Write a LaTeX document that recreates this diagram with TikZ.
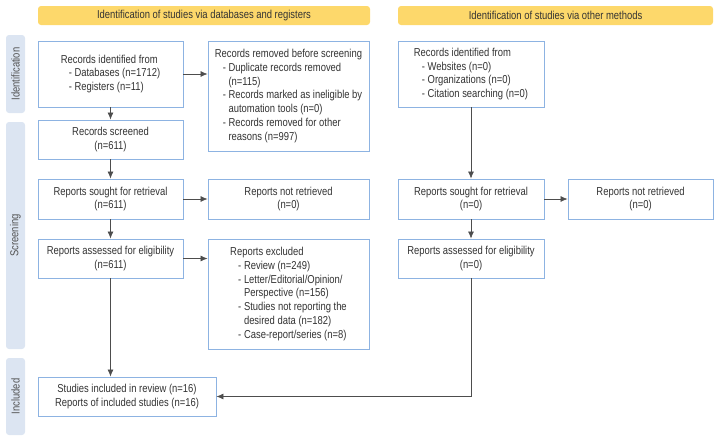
\documentclass[tikz,border=0pt]{standalone}
\usepackage{fontspec}
\setmainfont{Liberation Sans}[FakeStretch=0.82]
\usetikzlibrary{arrows.meta}
\definecolor{boxblue}{HTML}{8DB3E2}
\definecolor{headyellow}{HTML}{FDD86B}
\definecolor{phaseblue}{HTML}{DCE5F2}
\definecolor{inkgray}{HTML}{333333}
\definecolor{linegray}{HTML}{4D4D4D}
\newcommand{\itemdash}{\hspace*{8pt}- }
\newcommand{\itemcont}{\hspace*{8pt}\phantom{- }}

\begin{document}
\begin{tikzpicture}[x=1pt,y=-1pt,>={Latex[length=7pt,width=6pt]}]
\tikzstyle{box}=[draw=boxblue, line width=0.9pt, fill=white, inner sep=0pt, text=inkgray, font=\fontsize{11.5}{13.7}\selectfont]
\tikzstyle{head}=[fill=headyellow, rounded corners=3pt, minimum height=19pt, inner sep=0pt, text=inkgray, font=\fontsize{11.5}{13}\selectfont]
\tikzstyle{phase}=[fill=phaseblue, rounded corners=3pt, rotate=90, minimum height=19pt, inner sep=0pt, text=inkgray!85, font=\fontsize{11.5}{13}\selectfont]
\tikzstyle{link}=[draw=linegray, line width=0.7pt, ->]

\useasboundingbox (0,0) rectangle (720,442);

% headers and phases
\draw (204,15.5) node[head, minimum width=332pt] (hdb) {Identification of studies via databases and registers};
\draw (555.5,15.5) node[head, minimum width=315pt] (hother) {Identification of studies via other methods};
\draw (15.5,74) node[phase, minimum width=78pt] (pid) {Identification};
\draw (15.5,235.5) node[phase, minimum width=227pt] (pscr) {Screening};
\draw (15.5,396.5) node[phase, minimum width=77pt] (pinc) {Included};

% databases and registers
\draw (110.5,74) node[box, minimum width=145pt, minimum height=66pt, align=left] (recdb) {Records identified from\\ \itemdash Databases (n=1712)\\ \itemdash Registers (n=11)};
\draw (288.5,96) node[box, minimum width=161pt, minimum height=110pt, align=left] (removed) {Records removed before screening\\ \itemdash Duplicate records removed\\ \itemcont(n=115)\\ \itemdash Records marked as ineligible by\\ \itemcont automation tools (n=0)\\ \itemdash Records removed for other\\ \itemcont reasons (n=997)};
\draw (110.5,139.5) node[box, minimum width=145pt, minimum height=39pt, align=center] (screened) {Records screened\\(n=611)};
\draw (110.5,199) node[box, minimum width=145pt, minimum height=40pt, align=center] (sought) {Reports sought for retrieval\\(n=611)};
\draw (288.5,199) node[box, minimum width=161pt, minimum height=40pt, align=center] (notret) {Reports not retrieved\\(n=0)};
\draw (110.5,258.5) node[box, minimum width=145pt, minimum height=39pt, align=center] (assessed) {Reports assessed for eligibility\\(n=611)};
\draw (288.5,294) node[box, minimum width=161pt, minimum height=110pt, align=left] (excluded) {Reports excluded\\ \itemdash Review (n=249)\\ \itemdash Letter/Editorial/Opinion/\\ \itemcont Perspective (n=156)\\ \itemdash Studies not reporting the\\ \itemcont desired data (n=182)\\ \itemdash Case-report/series (n=8)};
\draw (127,396.5) node[box, minimum width=178pt, minimum height=39pt, align=center] (included) {Studies included in review (n=16)\\Reports of included studies (n=16)};

% other methods
\draw (471,74) node[box, minimum width=146pt, minimum height=66pt, align=left] (recother) {Records identified from\\ \itemdash Websites (n=0)\\ \itemdash Organizations (n=0)\\ \itemdash Citation searching (n=0)};
\draw (471,199) node[box, minimum width=146pt, minimum height=40pt, align=center] (soughtother) {Reports sought for retrieval\\(n=0)};
\draw (640.5,199) node[box, minimum width=145pt, minimum height=40pt, align=center] (notretother) {Reports not retrieved\\(n=0)};
\draw (471,258.5) node[box, minimum width=146pt, minimum height=39pt, align=center] (assessedother) {Reports assessed for eligibility\\(n=0)};

\draw[link] (recdb) -- (recdb -| removed.west);
\draw[link] (recdb) -- (screened);
\draw[link] (screened) -- (sought);
\draw[link] (sought) -- (notret);
\draw[link] (sought) -- (assessed);
\draw[link] (assessed) -- (assessed -| excluded.west);
\draw[link] (assessed) -- (included.north -| assessed);
\draw[link] (recother) -- (soughtother);
\draw[link] (soughtother) -- (notretother);
\draw[link] (soughtother) -- (assessedother);
\draw[link] (assessedother) |- (included);
\end{tikzpicture}
\end{document}
